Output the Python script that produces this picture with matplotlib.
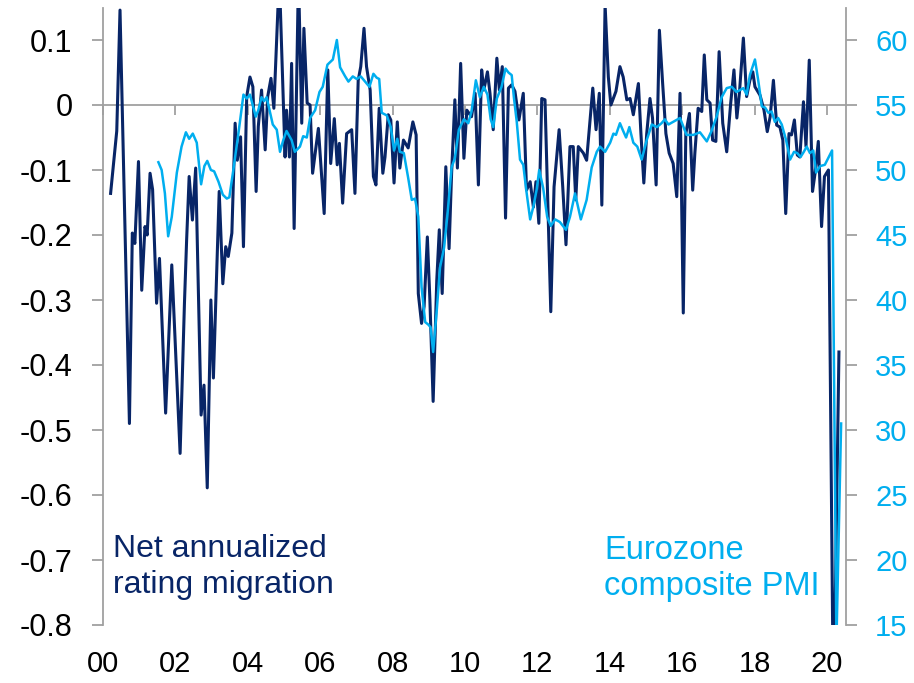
import matplotlib
matplotlib.use("Agg")
import matplotlib.pyplot as plt

plt.rcParams['font.family'] = ['Liberation Sans', 'DejaVu Sans']
plt.rcParams['axes.unicode_minus'] = False

# ---- Data ----
navy_t = [2000.21, 2000.38, 2000.47, 2000.73, 2000.81, 2000.88, 2000.98, 2001.07, 2001.16, 2001.22,
          2001.30, 2001.37, 2001.48, 2001.56, 2001.73, 2001.90, 2002.13, 2002.25, 2002.31, 2002.38,
          2002.47, 2002.56, 2002.71, 2002.79, 2002.88, 2002.98, 2003.05, 2003.21, 2003.31, 2003.39,
          2003.46, 2003.56, 2003.65, 2003.71, 2003.80, 2003.88, 2003.97, 2004.06, 2004.14, 2004.23,
          2004.29, 2004.38, 2004.48, 2004.55, 2004.64, 2004.72, 2004.87, 2005.03, 2005.07, 2005.15,
          2005.21, 2005.28, 2005.40, 2005.49, 2005.55, 2005.64, 2005.72, 2005.79, 2005.95, 2006.11,
          2006.21, 2006.29, 2006.39, 2006.47, 2006.53, 2006.62, 2006.73, 2006.87, 2006.96, 2007.05,
          2007.12, 2007.21, 2007.28, 2007.38, 2007.47, 2007.54, 2007.63, 2007.73, 2007.79, 2007.88,
          2007.95, 2008.04, 2008.13, 2008.20, 2008.30, 2008.43, 2008.56, 2008.65, 2008.71, 2008.80,
          2008.87, 2008.96, 2009.03, 2009.12, 2009.22, 2009.29, 2009.37, 2009.47, 2009.56, 2009.63,
          2009.72, 2009.79, 2009.88, 2009.97, 2010.05, 2010.18, 2010.28, 2010.37, 2010.46, 2010.52,
          2010.62, 2010.69, 2010.78, 2010.88, 2010.95, 2011.03, 2011.12, 2011.20, 2011.29, 2011.38,
          2011.49, 2011.61, 2011.70, 2011.80, 2011.89, 2011.96, 2012.04, 2012.12, 2012.21, 2012.37,
          2012.46, 2012.60, 2012.70, 2012.79, 2012.90, 2012.99, 2013.06, 2013.13, 2013.27, 2013.36,
          2013.53, 2013.62, 2013.71, 2013.78, 2013.87, 2013.96, 2014.03, 2014.17, 2014.28, 2014.37,
          2014.47, 2014.56, 2014.65, 2014.79, 2014.86, 2014.94, 2015.02, 2015.11, 2015.18, 2015.28,
          2015.37, 2015.46, 2015.55, 2015.64, 2015.75, 2015.85, 2015.94, 2016.03, 2016.10, 2016.20,
          2016.29, 2016.35, 2016.44, 2016.54, 2016.61, 2016.68, 2016.77, 2016.84, 2016.93, 2017.02,
          2017.12, 2017.23, 2017.34, 2017.43, 2017.51, 2017.58, 2017.69, 2017.78, 2017.87, 2017.95,
          2018.01, 2018.15, 2018.26, 2018.35, 2018.43, 2018.52, 2018.61, 2018.70, 2018.78, 2018.86,
          2018.95, 2019.02, 2019.10, 2019.18, 2019.25, 2019.35, 2019.42, 2019.51, 2019.60, 2019.67,
          2019.76, 2019.85, 2019.93, 2020.04, 2020.18, 2020.33]
navy_v = [-0.136, -0.04, 0.146, -0.49, -0.197, -0.213, -0.087, -0.285, -0.187, -0.2,
          -0.105, -0.13, -0.305, -0.236, -0.474, -0.246, -0.536, -0.305, -0.208, -0.11,
          -0.177, -0.097, -0.477, -0.431, -0.589, -0.3, -0.42, -0.133, -0.275, -0.218,
          -0.233, -0.197, -0.028, -0.085, -0.049, -0.218, 0.013, 0.043, 0.028, -0.133,
          -0.033, 0.023, -0.069, 0.013, 0.041, -0.005, 0.2, -0.08, -0.008, -0.08,
          0.064, -0.19, 0.2, -0.028, 0.118, 0.003, 0.0, -0.105, -0.036, -0.167,
          0.054, -0.09, -0.021, -0.092, -0.059, -0.151, -0.044, -0.038, -0.136, 0.038,
          0.059, 0.118, 0.059, 0.023, -0.11, -0.123, -0.005, -0.105, -0.08, -0.015,
          -0.023, -0.12, -0.026, -0.097, -0.054, -0.066, -0.026, -0.046, -0.29, -0.336,
          -0.31, -0.203, -0.3, -0.456, -0.27, -0.192, -0.29, -0.095, -0.221, -0.105,
          0.008, -0.097, 0.064, -0.082, -0.008, -0.018, 0.018, -0.123, 0.054, 0.023,
          0.051, 0.018, -0.038, 0.072, 0.023, 0.059, -0.174, 0.026, 0.031, 0.021,
          -0.023, 0.018, -0.131, -0.118, -0.157, -0.118, -0.182, 0.01, 0.008, -0.318,
          -0.126, -0.038, -0.126, -0.215, -0.064, -0.064, -0.146, -0.064, -0.074, -0.085,
          0.026, -0.038, 0.018, -0.154, 0.154, 0.043, 0.0, 0.021, 0.059, 0.043,
          0.008, 0.01, -0.015, 0.033, -0.044, -0.12, -0.044, 0.01, -0.02, -0.123,
          0.115, 0.033, -0.044, -0.074, -0.09, -0.141, 0.018, -0.32, -0.044, -0.013,
          -0.131, -0.074, -0.005, -0.01, 0.077, 0.008, 0.003, -0.054, -0.056, 0.082,
          -0.028, -0.072, 0.003, 0.054, -0.02, 0.018, 0.103, 0.013, 0.038, 0.051,
          0.028, 0.015, -0.008, -0.041, -0.018, 0.038, -0.031, -0.034, -0.054, -0.167,
          -0.044, -0.046, -0.023, -0.077, -0.08, 0.005, -0.064, 0.069, -0.133, -0.105,
          -0.056, -0.187, -0.11, -0.1, -0.95, -0.38]

pmi_t = [2001.53, 2001.62, 2001.71, 2001.80, 2001.90, 2002.04, 2002.17, 2002.29, 2002.38, 2002.48,
         2002.59, 2002.71, 2002.80, 2002.88, 2002.98, 2003.07, 2003.19, 2003.31, 2003.42, 2003.49,
         2003.60, 2003.74, 2003.88, 2003.97, 2004.06, 2004.22, 2004.29, 2004.38, 2004.45, 2004.52,
         2004.69, 2004.80, 2004.89, 2004.98, 2005.07, 2005.21, 2005.30, 2005.44, 2005.53, 2005.63,
         2005.72, 2005.86, 2005.98, 2006.07, 2006.20, 2006.35, 2006.46, 2006.55, 2006.69, 2006.78,
         2006.90, 2007.01, 2007.12, 2007.24, 2007.36, 2007.47, 2007.56, 2007.63, 2007.70, 2007.84,
         2007.95, 2008.04, 2008.13, 2008.20, 2008.31, 2008.43, 2008.53, 2008.62, 2008.71, 2008.80,
         2008.90, 2008.99, 2009.05, 2009.12, 2009.22, 2009.31, 2009.42, 2009.51, 2009.63, 2009.72,
         2009.83, 2009.97, 2010.09, 2010.18, 2010.30, 2010.41, 2010.52, 2010.62, 2010.71, 2010.78,
         2010.88, 2011.01, 2011.12, 2011.20, 2011.29, 2011.35, 2011.43, 2011.52, 2011.61, 2011.69,
         2011.80, 2011.89, 2011.98, 2012.05, 2012.16, 2012.27, 2012.37, 2012.49, 2012.62, 2012.79,
         2012.90, 2013.04, 2013.20, 2013.36, 2013.50, 2013.64, 2013.73, 2013.87, 2014.01, 2014.10,
         2014.17, 2014.28, 2014.37, 2014.45, 2014.54, 2014.65, 2014.76, 2014.88, 2015.02, 2015.16,
         2015.30, 2015.43, 2015.52, 2015.62, 2015.75, 2015.94, 2016.12, 2016.31, 2016.49, 2016.68,
         2016.81, 2016.95, 2017.09, 2017.23, 2017.37, 2017.50, 2017.69, 2017.78, 2017.87, 2018.01,
         2018.10, 2018.20, 2018.29, 2018.38, 2018.47, 2018.56, 2018.65, 2018.75, 2018.87, 2018.98,
         2019.09, 2019.18, 2019.27, 2019.36, 2019.44, 2019.53, 2019.62, 2019.70, 2019.81, 2019.94,
         2020.14, 2020.26, 2020.39]
pmi_v = [50.6, 50.0, 48.2, 44.9, 46.4, 49.8, 51.8, 52.9, 52.4, 52.8,
         52.1, 48.9, 50.3, 50.7, 50.0, 49.9, 49.1, 48.1, 47.8, 47.9,
         50.0, 52.8, 55.8, 55.5, 55.8, 54.1, 54.6, 55.6, 55.3, 55.6,
         53.5, 53.1, 51.4, 52.3, 53.0, 52.3, 51.4, 51.8, 52.6, 52.5,
         54.0, 54.6, 56.0, 56.4, 58.1, 58.5, 60.0, 57.9, 57.2, 56.8,
         57.2, 57.0, 57.2, 56.8, 56.4, 57.4, 57.1, 57.0, 54.4, 54.2,
         53.3, 51.5, 52.4, 51.4, 51.3, 49.4, 47.7, 47.8, 46.4, 41.0,
         38.3, 38.1, 37.9, 36.0, 39.2, 42.5, 44.0, 46.4, 50.2, 50.9,
         53.1, 53.9, 53.6, 54.5, 56.9, 55.6, 56.4, 55.8, 53.9, 53.3,
         55.5, 56.4, 57.8, 57.5, 57.3, 55.6, 53.7, 50.8, 50.4, 48.5,
         46.2, 47.2, 48.5, 50.0, 48.6, 46.4, 45.7, 46.2, 46.0, 45.4,
         46.4, 48.2, 46.2, 47.7, 50.2, 51.4, 51.8, 51.4, 52.1, 52.8,
         52.7, 53.6, 53.0, 52.5, 53.3, 52.1, 51.8, 50.8, 52.3, 53.5,
         53.3, 53.6, 53.9, 53.5, 53.7, 54.0, 52.7, 52.7, 52.9, 52.2,
         53.0, 54.1, 55.6, 56.3, 56.4, 56.0, 56.3, 55.8, 57.3, 58.5,
         56.9, 54.9, 54.8, 54.4, 54.5, 53.7, 54.0, 53.5, 52.3, 50.8,
         51.4, 51.3, 51.0, 51.4, 51.8, 51.3, 51.5, 49.8, 50.3, 50.4,
         51.5, 13.6, 30.5]

year_ticks = list(range(2000, 2021, 2))
year_labels = ['00', '02', '04', '06', '08', '10', '12', '14', '16', '18', '20']
left_ticks = [0.1, 0.0, -0.1, -0.2, -0.3, -0.4, -0.5, -0.6, -0.7, -0.8]
left_labels = ['0.1', '0', '-0.1', '-0.2', '-0.3', '-0.4', '-0.5', '-0.6', '-0.7', '-0.8']
right_ticks = [15, 20, 25, 30, 35, 40, 45, 50, 55, 60]

NAVY = '#082567'
LIGHT = '#00AEEF'
GRAY = '#A0A0A0'

W, H = 914, 683
fig = plt.figure(figsize=(W / 100, H / 100), dpi=100)
x0, x1 = 103, 846
y_top, y_bot = 7.5, 625
ax = fig.add_axes([x0 / W, (H - y_bot) / H, (x1 - x0) / W, (y_bot - y_top) / H])

ax.plot(navy_t, navy_v, color=NAVY, lw=2.2, zorder=3, solid_joinstyle='round')
ax.set_xlim(2000, 2020.525)
ax.set_ylim(-0.8, 0.15)

for s in ['top', 'right']:
    ax.spines[s].set_visible(False)
ax.spines['left'].set_color(GRAY)
ax.spines['left'].set_linewidth(1.3)
ax.spines['bottom'].set_position(('data', 0))
ax.spines['bottom'].set_color(GRAY)
ax.spines['bottom'].set_linewidth(1.3)

ax.set_yticks(left_ticks)
ax.set_yticklabels(left_labels)
ax.tick_params(axis='y', direction='out', length=8, width=1.3, color=GRAY,
               labelsize=22, labelcolor='black', pad=14)
ax.set_xticks(year_ticks)
ax.tick_params(axis='x', direction='out', length=7, width=1.3, color=GRAY, labelbottom=False)

sec = ax.secondary_xaxis('bottom')
sec.set_xticks(year_ticks)
sec.set_xticklabels(year_labels)
sec.tick_params(axis='x', length=0, pad=18, labelsize=21, labelcolor='black')
for s in sec.spines.values():
    s.set_visible(False)

ax2 = ax.twinx()
ax2.plot(pmi_t, pmi_v, color=LIGHT, lw=1.8, zorder=3, solid_joinstyle='round')
ax2.set_ylim(15, 62.5)
for s in ['top', 'left', 'bottom']:
    ax2.spines[s].set_visible(False)
ax2.spines['right'].set_color(GRAY)
ax2.spines['right'].set_linewidth(1.3)
ax2.set_yticks(right_ticks)
ax2.tick_params(axis='y', direction='out', length=8, width=1.3, color=GRAY,
                labelsize=21, labelcolor=LIGHT, pad=13)

fig.text(113 / W, 1 - 557 / H, 'Net annualized', color=NAVY, fontsize=23, va='baseline', ha='left')
fig.text(113 / W, 1 - 593 / H, 'rating migration', color=NAVY, fontsize=23, va='baseline', ha='left')
fig.text(604 / W, 1 - 559 / H, 'Eurozone', color=LIGHT, fontsize=23.5, va='baseline', ha='left')
fig.text(604 / W, 1 - 595 / H, 'composite PMI', color=LIGHT, fontsize=23.5, va='baseline', ha='left')

fig.savefig('out.png', dpi=100)
